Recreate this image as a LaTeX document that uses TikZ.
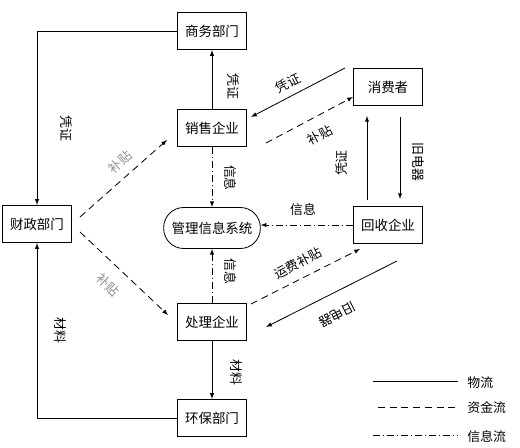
\documentclass[tikz,border=0pt]{standalone}
\usepackage{fontspec}
\newfontfamily\cjk{Noto Sans CJK SC}
\usetikzlibrary{arrows,positioning}
\tikzset{
  basic/.style  = {draw, font=\cjk\fontsize{11.5}{13}\selectfont, line width=0.7pt, inner sep=2pt},
  dept/.style   = {basic, rectangle, minimum width=2.07cm, minimum height=1.12cm},
  hub/.style    = {basic, rectangle, rounded corners=0.6cm, minimum width=2.9cm,
                   minimum height=1.23cm},
  tag/.style    = {font=\cjk\fontsize{11}{13}\selectfont, inner sep=1pt},
  greytag/.style = {tag, text=black!45},
  wuliu/.style  = {draw, line width=0.7pt},
  zijin/.style  = {wuliu, dash pattern=on 6pt off 4pt},
  xinxi/.style  = {wuliu, dash pattern=on 6pt off 2.5pt on 1pt off 2.5pt}
}

\begin{document}
\begin{tikzpicture}[x=0.03cm, y=-0.03cm, >=latex]
	  \useasboundingbox (0,0) rectangle (520,448);

	  % the middle column
	  \node[dept] (shangwu)  at (212,31)  {商务部门};
	  \node[dept] (xiaoshou) at (212,128) {销售企业};
	  \node[hub]  (guanli)   at (212,228) {管理信息系统};
	  \node[dept] (chuli)    at (212,322) {处理企业};
	  \node[dept] (huanbao)  at (212,418) {环保部门};
	  % left and right
	  \node[dept] (caizheng) at (37,224)  {财政部门};
	  \node[dept] (xiaofei)  at (388,87)  {消费者};
	  \node[dept] (huishou)  at (388,225) {回收企业};

	  % free ends of the slanted arrows
	  \coordinate (cz1) at (80,217);  \coordinate (xs1) at (167,140);
	  \coordinate (cz2) at (80,232);  \coordinate (cl1) at (168,315);
	  \coordinate (xf1) at (345,68);  \coordinate (xs2) at (251,117);
	  \coordinate (xs3) at (266,143); \coordinate (xf2) at (353,97);
	  \coordinate (xf3) at (400,117); \coordinate (hs1) at (400,199);
	  \coordinate (hs2) at (367,200); \coordinate (xf4) at (367,116);
	  \coordinate (cl2) at (251,304); \coordinate (hs4) at (360,249);
	  \coordinate (hs5) at (397,261); \coordinate (cl3) at (266,327);

	  % column arrows
	  \draw[wuliu,->] (xiaoshou) -- (shangwu);
	  \draw[xinxi,->] (xiaoshou) -- (guanli);
	  \draw[xinxi,->] (chuli) -- (guanli);
	  \draw[wuliu,->] (chuli) -- (huanbao);
	  \draw[wuliu,->] (shangwu.west) -| (caizheng.north);
	  \draw[wuliu,->] (huanbao.west) -| (caizheng.south);

	  % slanted and right hand arrows
	  \draw[zijin,->] (cz1) -- (xs1);
	  \draw[zijin,->] (cz2) -- (cl1);
	  \draw[wuliu,->] (xf1) -- (xs2);
	  \draw[zijin,->] (xs3) -- (xf2);
	  \draw[wuliu,->] (xf3) -- (hs1);
	  \draw[wuliu,->] (hs2) -- (xf4);
	  \draw[xinxi,->] (huishou.west) -- (huishou.west -| guanli.east);
	  \draw[zijin,->] (cl2) -- (hs4);
	  \draw[wuliu,->] (hs5) -- (cl3);

	  % labels
	  \node[tag, rotate=-90] (t1)  at (66,128)  {凭证};
	  \node[tag, rotate=-90] (t2)  at (60,330)  {材料};
	  \node[tag, rotate=-90] (t3)  at (233,86)  {凭证};
	  \node[tag, rotate=-90] (t4)  at (230,178) {信息};
	  \node[tag, rotate=-90] (t5)  at (230,271) {信息};
	  \node[tag, rotate=-90] (t6)  at (236,372) {材料};
	  \node[greytag, rotate=41]  (t7) at (120,162) {补贴};
	  \node[greytag, rotate=-44] (t8) at (108,285) {补贴};
	  \node[tag, rotate=27]  (t9)  at (288,83)  {凭证};
	  \node[tag, rotate=28]  (t10) at (320,135) {补贴};
	  \node[tag, rotate=-90] (t11) at (418,162) {旧电器};
	  \node[tag, rotate=90]  (t12) at (342,163) {凭证};
	  \node[tag]             (t13) at (303,210) {信息};
	  \node[tag, rotate=27]  (t14) at (298,263) {运费补贴};
	  \node[tag, rotate=207] (t15) at (337,315) {旧电器};

	  % legend
	  \node[tag, anchor=west] (lgwu) at (466,383) {物流};
	  \node[tag, anchor=west] (lgzi) at (466,408) {资金流};
	  \node[tag, anchor=west] (lgxi) at (466,437) {信息流};
	  \coordinate (lw) at (373,381);
	  \coordinate (lz) at (378,407);
	  \coordinate (lx) at (373,435);
	  \draw[wuliu] (lw) -- ++(85,0);
	  \draw[zijin] (lz) -- ++(80,0);
	  \draw[xinxi] (lx) -- ++(85,0);
\end{tikzpicture}
\end{document}
